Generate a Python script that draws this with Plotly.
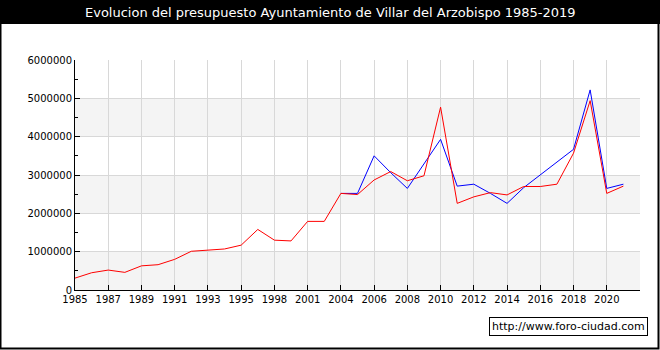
import plotly.graph_objects as go

years = ["1985", "1986", "1987", "1988", "1989", "1990", "1991", "1992", "1993", "1994",
         "1995", "1997", "1998", "2000", "2001", "2003", "2004", "2005", "2006", "2007",
         "2008", "2009", "2010", "2011", "2012", "2013", "2014", "2015", "2016", "2017",
         "2018", "2019", "2020", "2021"]
red_values = [310000, 450000, 520000, 460000, 630000, 660000, 800000, 1010000, 1040000, 1070000,
              1170000, 1580000, 1300000, 1280000, 1790000, 1790000, 2520000, 2490000, 2870000, 3090000,
              2850000, 2980000, 4770000, 2260000, 2430000, 2540000, 2480000, 2700000, 2700000, 2760000,
              3570000, 4940000, 2520000, 2710000]
blue_years = years[16:]
blue_values = [2520000, 2520000, 3500000, 3060000, 2650000, 3300000, 3930000, 2710000, 2760000, 2520000,
               2260000, 2670000, 3000000, 3350000, 3670000, 5220000, 2650000, 2760000]
tick_labels = ["1985", "1987", "1989", "1991", "1993", "1995", "1998", "2001", "2004", "2006",
               "2008", "2010", "2012", "2014", "2016", "2018", "2020"]
y_ticks = [0, 1000000, 2000000, 3000000, 4000000, 5000000, 6000000]
bands = [(0, 1000000), (2000000, 3000000), (4000000, 5000000)]
title = "Evolucion del presupuesto Ayuntamiento de Villar del Arzobispo 1985-2019"
watermark = "http://www.foro-ciudad.com"

W, H = 660, 350
L, R, T, B = 75, 640, 60, 290
pw, ph = R - L, B - T


def px(x):
    return (x - L) / pw


def py(y):
    return (B - y) / ph


fig = go.Figure()
fig.add_trace(go.Scatter(x=blue_years, y=blue_values, mode="lines",
                         line=dict(color="#0000ff", width=1), showlegend=False))
fig.add_trace(go.Scatter(x=years, y=red_values, mode="lines",
                         line=dict(color="#ff0000", width=1), showlegend=False))

shapes = []
for y0, y1 in bands:
    shapes.append(dict(type="rect", xref="paper", yref="y", x0=0, x1=1, y0=y0, y1=y1,
                       fillcolor="#f4f4f4", line=dict(width=0), layer="below"))
# title bar
shapes.append(dict(type="rect", xref="paper", yref="paper", x0=px(-1), x1=px(W + 1),
                   y0=py(24), y1=py(-1), fillcolor="black", line=dict(width=0)))
# outer border
shapes.append(dict(type="rect", xref="paper", yref="paper", x0=px(0.5), x1=px(W - 1.5),
                   y0=py(H - 1.5), y1=py(0.5), fillcolor="rgba(0,0,0,0)",
                   line=dict(color="black", width=2)))

fig.update_layout(
    width=W, height=H,
    margin=dict(l=L, r=W - R, t=T, b=H - B),
    paper_bgcolor="white", plot_bgcolor="white",
    shapes=shapes,
    font=dict(family="DejaVu Sans", size=10, color="black"),
    annotations=[
        dict(text=title, xref="paper", yref="paper", x=px(330), y=py(12),
             showarrow=False, font=dict(color="white", size=13, family="DejaVu Sans"),
             xanchor="center", yanchor="middle"),
        dict(text=watermark, xref="paper", yref="paper", x=px(568), y=py(326.5),
             showarrow=False, font=dict(color="black", size=11, family="DejaVu Sans"),
             xanchor="center", yanchor="middle", bgcolor="white",
             bordercolor="black", borderwidth=1, borderpad=2),
    ],
)
fig.update_xaxes(type="category", categoryorder="array", categoryarray=years,
                 range=[0, 34], tickmode="array", tickvals=tick_labels, ticktext=tick_labels,
                 showgrid=True, gridcolor="#d8d8d8", gridwidth=1,
                 showline=True, linecolor="black", linewidth=1,
                 ticks="inside", ticklen=5, tickcolor="black",
                 tickfont=dict(size=10), zeroline=False)
fig.update_yaxes(range=[0, 6000000], tickmode="array", tickvals=y_ticks,
                 ticktext=[str(v) for v in y_ticks],
                 showgrid=True, gridcolor="#d8d8d8", gridwidth=1,
                 showline=True, linecolor="black", linewidth=1,
                 ticks="inside", ticklen=5, tickcolor="black",
                 minor=dict(dtick=500000, ticks="inside", ticklen=3, tickcolor="black", showgrid=False),
                 tickfont=dict(size=10), zeroline=False)

fig.write_html("out.html")
